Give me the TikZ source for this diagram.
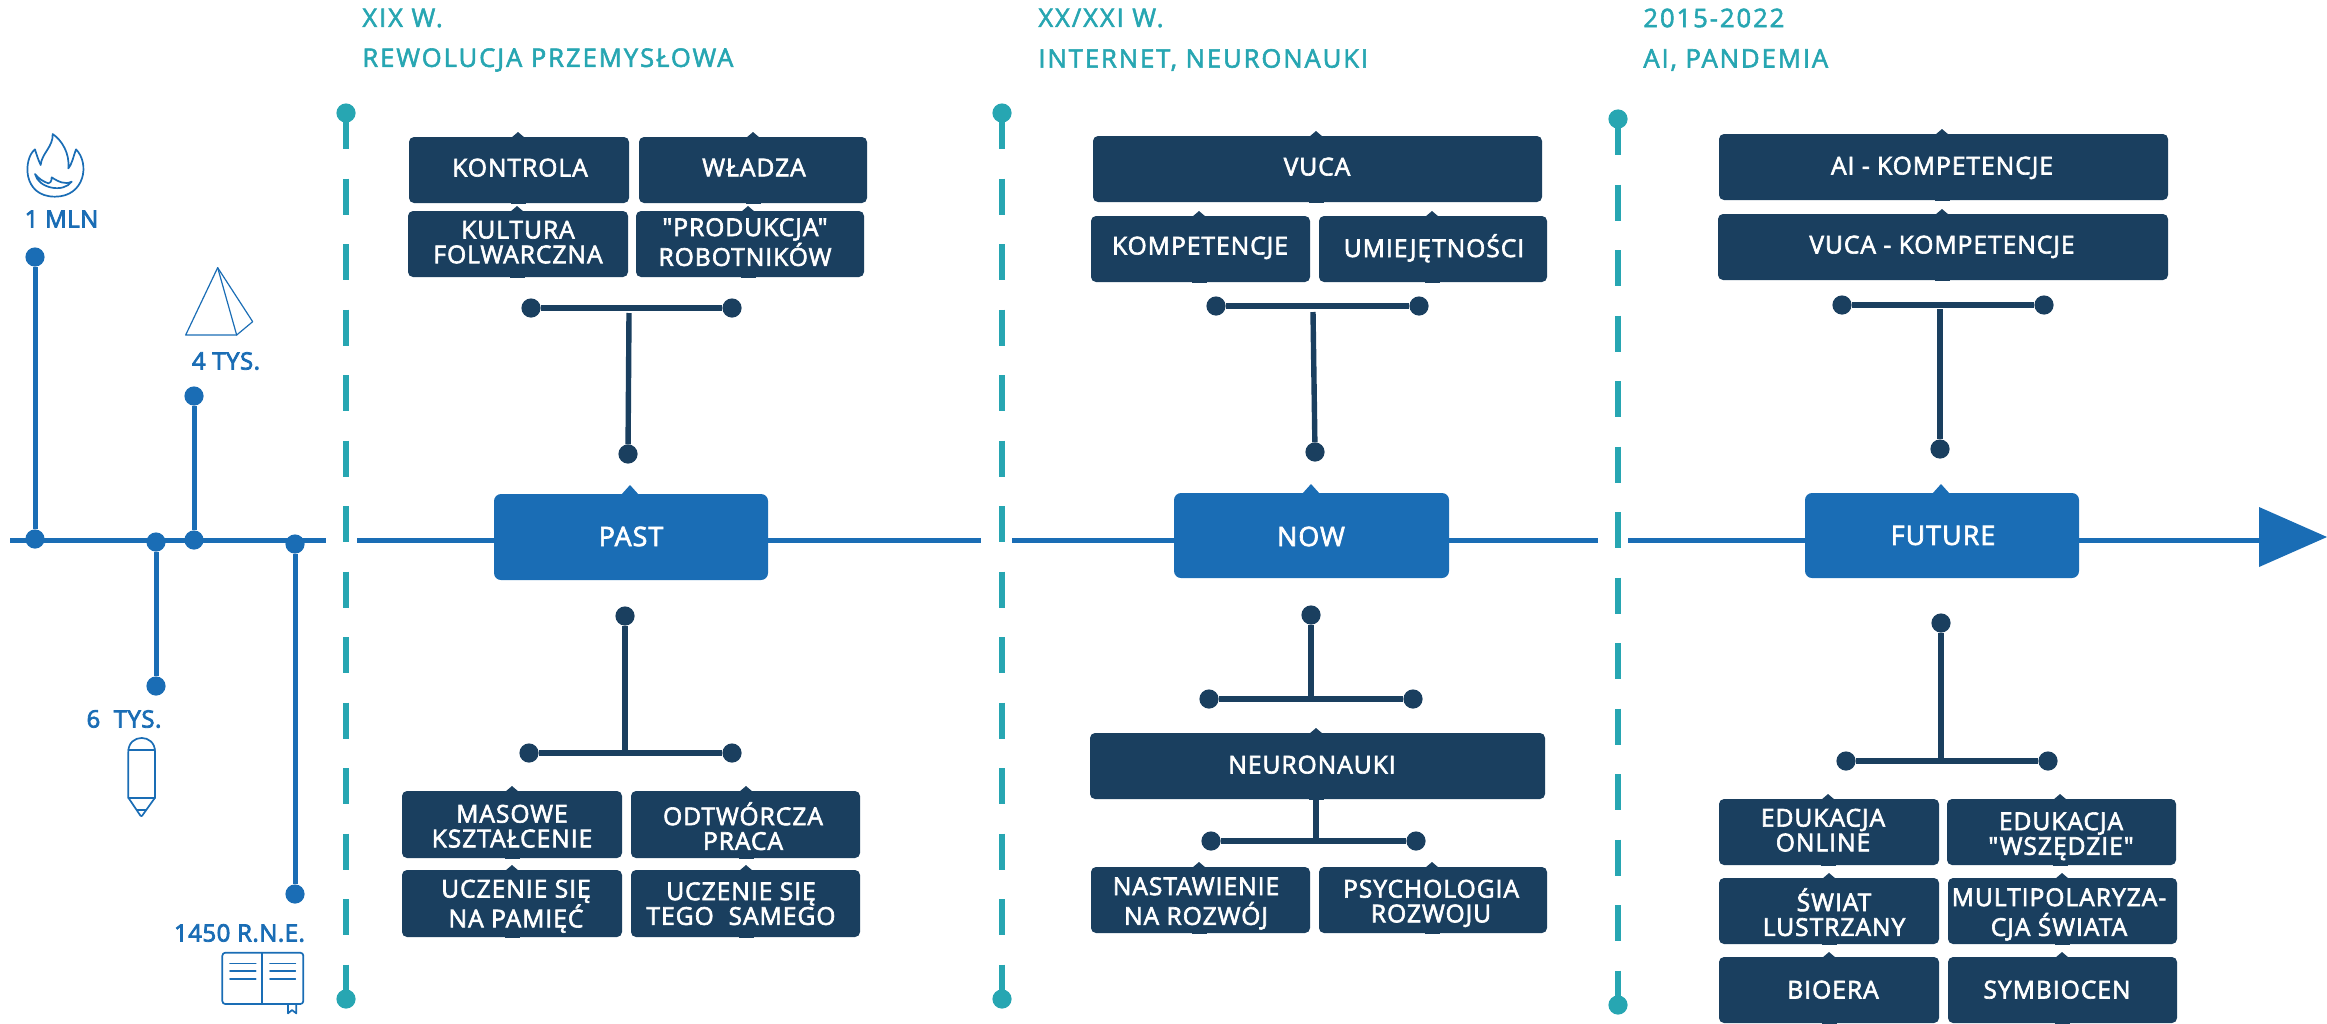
\documentclass[tikz,border=0pt]{standalone}
\usepackage{fontspec}
\setmainfont{Open Sans}
\newfontfamily\boxfam[LetterSpace=4,FakeBold=2.6]{Open Sans}
\newfontfamily\yearfam[LetterSpace=2,FakeBold=3.2]{Open Sans}
\newfontfamily\headfam[LetterSpace=7.6,FakeBold=2.2]{Open Sans}
\definecolor{navy}{HTML}{1A3F5F}
\definecolor{bluem}{HTML}{1A6DB5}
\definecolor{teal2}{HTML}{27A6B2}
\newcommand{\boxfont}{\fontsize{12.3}{11.5}\selectfont\boxfam}
\tikzset{
  x=0.5pt,y=-0.5pt,
  cardbox/.style={fill=navy,text=white,rounded corners=2.5pt,inner sep=0pt,outer sep=0pt,font=\boxfont},
  bluebox/.style={fill=bluem,text=white,rounded corners=3.5pt,inner sep=0pt,outer sep=0pt,font=\fontsize{13.4}{11.5}\selectfont\boxfam},
  dotn/.style={circle,fill=navy,inner sep=0pt,minimum size=9.6pt,outer sep=0pt},
  dotb/.style={circle,fill=bluem,inner sep=0pt,minimum size=9.6pt,outer sep=0pt},
  dott/.style={circle,fill=teal2,inner sep=0pt,minimum size=9.6pt,outer sep=0pt},
  navyline/.style={draw=navy,line width=2.7pt},
  axisline/.style={draw=bluem,line width=2.5pt},
  dashline/.style={draw=teal2,line width=2.7pt,dash pattern=on 18pt off 14.75pt},
  icon/.style={draw=bluem,line width=0.85pt,line join=round,line cap=round},
  yearlabel/.style={text=bluem,font=\fontsize{12}{12}\selectfont\yearfam,inner sep=0pt},
  headlabel/.style={text=teal2,font=\fontsize{12.8}{13}\selectfont\headfam,inner sep=0pt,anchor=west},
}
% name, x1,y1,x2,y2, notch x, text cx, text cy, text
\newcommand{\bx}[9]{%
  \pgfmathsetmacro\dxv{#7-(#2+#4)/2}%
  \pgfmathsetmacro\dyv{((#3+#5)/2-#8)*0.5-4.5}%
  \fill[navy] ({#6-7},{#3+1}) -- (#6,{#3-5}) -- ({#6+7},{#3+1}) -- cycle;
  \fill[navy] ({#6-7.5},{#5-1}) rectangle ({#6+7.5},{#5+1});
  \node[cardbox,minimum width={(#4-#2)*0.5pt},minimum height={(#5-#3)*0.5pt}] (#1) at ({(#2+#4)/2},{(#3+#5)/2})
    {\hspace*{\dxv pt}\raisebox{\dyv pt}[0pt][0pt]{\begin{tabular}{@{}c@{}}#9\end{tabular}}};
}
\newcommand{\bb}[9]{%
  \pgfmathsetmacro\dxv{#7-(#2+#4)/2}%
  \pgfmathsetmacro\dyv{((#3+#5)/2-#8)*0.5-5}%
  \fill[bluem] ({#6-9},{#3+1}) -- (#6,{#3-9}) -- ({#6+9},{#3+1}) -- cycle;
  \node[bluebox,minimum width={(#4-#2)*0.5pt},minimum height={(#5-#3)*0.5pt}] (#1) at ({(#2+#4)/2},{(#3+#5)/2})
    {\hspace*{\dxv pt}\raisebox{\dyv pt}[0pt][0pt]{\begin{tabular}{@{}c@{}}#9\end{tabular}}};
}
\begin{document}
\begin{tikzpicture}
\useasboundingbox (0,0) rectangle (2327,1023);

% teal dashed dividers
\node[dott] (t1a) at (346,113) {};
\node[dott] (t1b) at (346,999) {};
\node[dott] (t2a) at (1002,113) {};
\node[dott] (t2b) at (1002,999) {};
\node[dott] (t3a) at (1618,119) {};
\node[dott] (t3b) at (1618,1005) {};
\draw[dashline] (t1a.center) -- (t1b.center);
\draw[dashline] (t2a.center) -- (t2b.center);
\draw[dashline] (t3a.center) -- (t3b.center);

% headers
\node[headlabel] (h1) at (362,18) {XIX W.};
\node[headlabel] (h2) at (362,60) {REWOLUCJA PRZEMYSŁOWA};
\node[headlabel] (h3) at (1038,18) {XX/XXI W.};
\node[headlabel] (h4) at (1038,60) {INTERNET, NEURONAUKI};
\node[headlabel] (h5) at (1643,18) {2015-2022};
\node[headlabel] (h6) at (1643,60) {AI, PANDEMIA};

% central boxes
\bb{past}{494}{494}{768}{580}{630}{631}{537}{PAST}
\bb{now}{1174}{493}{1449}{578}{1311}{1311}{537}{NOW}
\bb{future}{1805}{493}{2079}{578}{1941}{1943}{536}{FUTURE}

% axis
\coordinate (ax0) at (10,540);
\coordinate (ax1) at (326,540);
\coordinate (ax2) at (357,540);
\coordinate (ax3) at (981,540);
\coordinate (ax4) at (1012,540);
\coordinate (ax5) at (1598,540);
\coordinate (ax6) at (1628,540);
\coordinate (ax7) at (2262,540);
\draw[axisline] (ax0) -- (ax1);
\draw[axisline] (ax2) -- (ax2-|past.west);
\draw[axisline] (ax3-|past.east) -- (ax3);
\draw[axisline] (ax4) -- (ax4-|now.west);
\draw[axisline] (ax5-|now.east) -- (ax5);
\draw[axisline] (ax6) -- (ax6-|future.west);
\draw[axisline] (ax7-|future.east) -- (ax7);
\fill[bluem] (2259,507) -- (2327,537) -- (2259,567) -- cycle;

% timeline stems
\node[dotb] (a1) at (35,539) {};
\node[dotb] (a1t) at (35,257) {};
\node[dotb] (a2) at (194,540) {};
\node[dotb] (a2t) at (194,396) {};
\node[dotb] (a3) at (156,542) {};
\node[dotb] (a3b) at (156,686) {};
\node[dotb] (a4) at (295,544) {};
\node[dotb] (a4b) at (295,894) {};
\draw[axisline] (a1) -- (a1t);
\draw[axisline] (a2) -- (a2t);
\draw[axisline] (a3) -- (a3b);
\draw[axisline] (a4) -- (a4b);

\node[yearlabel] (y1) at (61.5,219) {1 MLN};
\node[yearlabel] (y2) at (226,361) {4 TYS.};
\node[yearlabel] (y3) at (124,719) {6\ \ TYS.};
\node[yearlabel] (y4) at (239.5,933) {1450 R.N.E.};

% flame
\begin{scope}[x=0.16667pt,y=-0.16667pt,shift={(0,300)}]
\draw[icon] (105,148) .. controls (70,175) and (65,290) .. (165,290) .. controls (255,290) and (270,190) .. (228,148) .. controls (220,170) and (215,195) .. (205,205) .. controls (210,160) and (185,120) .. (158,102) .. controls (160,140) and (125,160) .. (122,195) .. controls (115,180) and (110,165) .. (105,148) -- cycle;
\draw[icon] (105,222) .. controls (115,265) and (190,280) .. (215,245) .. controls (195,255) and (175,245) .. (155,232) .. controls (155,245) and (150,250) .. (145,250) .. controls (130,245) and (115,235) .. (105,222) -- cycle;
% pyramid
\draw[icon,line width=0.6pt] (653,503) -- (557,705) -- (710,705) -- (758,665) -- cycle;
\draw[icon,line width=0.6pt] (653,503) -- (710,705);
\end{scope}
% pencil and book
\begin{scope}[x=0.16667pt,y=-0.16667pt,shift={(180,1920)}]
\draw[icon] (205,473) -- (205,335) .. controls (205,280) and (285,280) .. (285,335) -- (285,473) -- (250,522) .. controls (246,530) and (242,530) .. (238,522) -- cycle;
\draw[icon] (205,330) -- (285,330);
\draw[icon] (205,473) -- (285,473);
\draw[icon] (231,510) -- (258,510);
\draw[icon,rounded corners=1.5pt] (487,938) rectangle (730,1092);
\draw[icon] (607,938) -- (607,1092);
\foreach \yy in {970,993,1016} {
  \draw[icon] (510,\yy) -- (587,\yy);
  \draw[icon] (630,\yy) -- (706,\yy);
}
\draw[icon] (684,1092) -- (684,1120) -- (696,1110) -- (709,1120) -- (709,1092);
\end{scope}

% PAST upper
\bx{b1}{409}{137}{629}{203}{518}{520}{168}{KONTROLA}
\bx{b2}{639}{137}{867}{203}{753}{754}{168}{WŁADZA}
\bx{b3}{408}{211}{628}{277}{517}{518}{242.5}{KULTURA\\FOLWARCZNA}
\bx{b4}{636}{211}{864}{277}{748}{745}{242.5}{"PRODUKCJA"\\ROBOTNIKÓW}
\node[dotn] (p1l) at (531,308) {};
\node[dotn] (p1r) at (732,308) {};
\node[dotn] (p1d) at (628,454) {};
\coordinate (p1t) at (629,313);
\draw[navyline] (p1l) -- (p1r);
\draw[navyline] (p1t) -- (p1d);

% PAST lower
\node[dotn] (p2d) at (625,616) {};
\node[dotn] (p2l) at (529,753) {};
\node[dotn] (p2r) at (732,753) {};
\coordinate (p2t) at (625,753);
\draw[navyline] (p2l) -- (p2r);
\draw[navyline] (p2d) -- (p2t);
\bx{b5}{402}{791}{622}{858}{512}{512}{826.5}{MASOWE\\KSZTAŁCENIE}
\bx{b6}{631}{791}{860}{858}{746}{743}{826.5}{ODTWÓRCZA\\PRACA}
\bx{b7}{402}{870}{622}{937}{512}{516}{904}{UCZENIE SIĘ\\NA PAMIĘĆ}
\bx{b8}{631}{870}{860}{937}{746}{741}{904}{UCZENIE SIĘ\\TEGO\ \ SAMEGO}

% NOW upper
\bx{c1}{1093}{136}{1542}{202}{1316}{1317}{167}{VUCA}
\bx{c2}{1091}{216}{1310}{282}{1199}{1200}{246}{KOMPETENCJE}
\bx{c3}{1319}{216}{1547}{282}{1432}{1434}{246}{UMIEJĘTNOŚCI}
\node[dotn] (n1l) at (1216,306) {};
\node[dotn] (n1r) at (1419,306) {};
\node[dotn] (n1d) at (1315,452) {};
\coordinate (n1t) at (1313,312);
\draw[navyline] (n1l) -- (n1r);
\draw[navyline] (n1t) -- (n1d);

% NOW lower
\node[dotn] (n2d) at (1311,615) {};
\node[dotn] (n2l) at (1209,699) {};
\node[dotn] (n2r) at (1413,699) {};
\coordinate (n2t) at (1311,699);
\draw[navyline] (n2l) -- (n2r);
\draw[navyline] (n2d) -- (n2t);
\bx{c4}{1090}{733}{1545}{799}{1316}{1312}{765}{NEURONAUKI}
\node[dotn] (n3l) at (1211,841) {};
\node[dotn] (n3r) at (1416,841) {};
\coordinate (n3t) at (1316,841);
\draw[navyline] (n3l) -- (n3r);
\draw[navyline] (c4.south-|n3t) -- (n3t);
\bx{c5}{1091}{867}{1310}{933}{1199}{1196}{901.5}{NASTAWIENIE\\NA ROZWÓJ}
\bx{c6}{1319}{867}{1547}{933}{1432}{1431}{901.5}{PSYCHOLOGIA\\ROZWOJU}

% FUTURE upper
\bx{d1}{1719}{134}{2168}{200}{1942}{1942}{166}{AI - KOMPETENCJE}
\bx{d2}{1718}{214}{2168}{280}{1942}{1942}{245}{VUCA - KOMPETENCJE}
\node[dotn] (f1l) at (1842,305) {};
\node[dotn] (f1r) at (2044,305) {};
\node[dotn] (f1d) at (1940,449) {};
\coordinate (f1t) at (1940,309);
\draw[navyline] (f1l) -- (f1r);
\draw[navyline] (f1t) -- (f1d);

% FUTURE lower
\node[dotn] (f2d) at (1941,623) {};
\node[dotn] (f2l) at (1846,761) {};
\node[dotn] (f2r) at (2048,761) {};
\coordinate (f2t) at (1941,761);
\draw[navyline] (f2l) -- (f2r);
\draw[navyline] (f2d) -- (f2t);
\bx{d3}{1719}{799}{1939}{865}{1828}{1823}{830.5}{EDUKACJA\\ONLINE}
\bx{d4}{1947}{799}{2176}{865}{2060}{2061}{834}{EDUKACJA\\"WSZĘDZIE"}
\bx{d5}{1719}{878}{1939}{944}{1829}{1834}{912.5}{ŚWIAT\\LUSTRZANY}
\bx{d6}{1948}{878}{2177}{944}{2062}{2059}{912.5}{MULTIPOLARYZA-\\CJA ŚWIATA}
\bx{d7}{1719}{957}{1939}{1023}{1829}{1833}{990}{BIOERA}
\bx{d8}{1948}{957}{2177}{1023}{2062}{2057}{990}{SYMBIOCEN}
\end{tikzpicture}
\end{document}
